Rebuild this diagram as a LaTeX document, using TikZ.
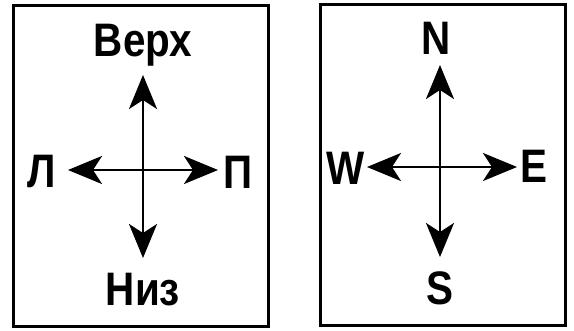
\documentclass[tikz,border=0pt]{standalone}
\usepackage{fontspec}
\setmainfont{Liberation Sans}
\newfontfamily\lblfont[FakeStretch=0.86]{Liberation Sans}
\usetikzlibrary{arrows.meta}
\begin{document}
\begin{tikzpicture}[x=1pt,y=-1pt,
  frame/.style={draw,line width=3pt},
  lbl/.style={font=\lblfont\bfseries\fontsize{47}{47}\selectfont,inner sep=0pt},
  dirarrow/.style={line width=2.6pt,{Stealth[length=34pt,width=28pt,inset=9pt]}-{Stealth[length=34pt,width=28pt,inset=9pt]}}]
\useasboundingbox (0,0) rectangle (574,331);
\node[frame,minimum width=255pt,minimum height=321pt,inner sep=0pt] (boxL) at (140.5,166) {};
\node[frame,minimum width=245pt,minimum height=321pt,inner sep=0pt] (boxR) at (442.5,165) {};
% left compass
\coordinate (lt) at (143,75);
\coordinate (lb) at (143,258);
\coordinate (ll) at (68,170);
\coordinate (lr) at (218,170);
\draw[dirarrow] (lb) -- (lt);
\draw[dirarrow] (ll) -- (lr);
\node[lbl] (verh) at (143,45) {Верх};
\node[lbl] (niz) at (143,290) {Низ};
\node[lbl] (Lleft) at (42,172) {Л};
\node[lbl] (Pright) at (238,172) {П};
% right compass
\coordinate (rt) at (440,65);
\coordinate (rb) at (440,257);
\coordinate (rl) at (367,167);
\coordinate (rr) at (517,167);
\draw[dirarrow] (rb) -- (rt);
\draw[dirarrow] (rl) -- (rr);
\node[lbl] (N) at (436,38) {N};
\node[lbl] (S) at (440,288) {S};
\node[lbl] (W) at (346,168) {W};
\node[lbl] (E) at (534,166) {E};
\end{tikzpicture}
\end{document}
